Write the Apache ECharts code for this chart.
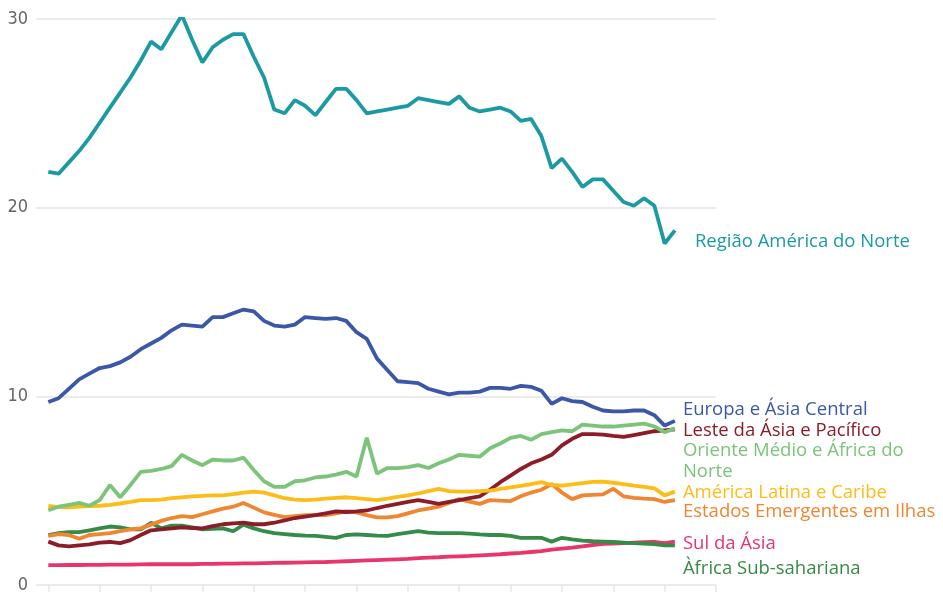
<!DOCTYPE html>
<html>
<head>
<meta charset="utf-8">
<script src="https://cdn.jsdelivr.net/npm/echarts@6/dist/echarts.min.js"></script>
<style>
  html, body { margin: 0; padding: 0; background: #fff; }
  #main { width: 943px; height: 594px; }
</style>
</head>
<body>
<div id="main"></div>
<script>
// anos 1960-2021
const years = [];
for (let y = 1960; y <= 2021; y++) years.push(y);

const tickYears = [1960, 1965, 1970, 1975, 1980, 1985, 1990, 1995, 2000, 2005, 2010, 2015, 2020, 2025];
const yTicks = [0, 10, 20, 30];

const americaNorte = [
  21.9, 21.8, 22.4, 23.0, 23.7, 24.5, 25.3, 26.1, 26.9, 27.8,
  28.8, 28.4, 29.3, 30.2, 28.9, 27.7, 28.5, 28.9, 29.2, 29.2,
  28.0, 26.9, 25.2, 25.0, 25.7, 25.4, 24.9, 25.6, 26.3, 26.3,
  25.7, 25.0, 25.1, 25.2, 25.3, 25.4, 25.8, 25.7, 25.6, 25.5,
  25.9, 25.3, 25.1, 25.2, 25.3, 25.1, 24.6, 24.7, 23.8, 22.1,
  22.6, 21.9, 21.1, 21.5, 21.5, 20.9, 20.3, 20.1, 20.5, 20.1,
  18.1, 18.8
];
const europaAsiaCentral = [
  9.7, 9.9, 10.4, 10.9, 11.2, 11.5, 11.6, 11.8, 12.1, 12.5,
  12.8, 13.1, 13.5, 13.8, 13.75, 13.7, 14.2, 14.2, 14.4, 14.6,
  14.5, 14.0, 13.75, 13.7, 13.8, 14.2, 14.15, 14.1, 14.15, 14.0,
  13.4, 13.05, 12.0, 11.4, 10.8, 10.75, 10.7, 10.4, 10.25, 10.1,
  10.2, 10.2, 10.25, 10.45, 10.45, 10.4, 10.55, 10.5, 10.3, 9.6,
  9.9, 9.75, 9.7, 9.45, 9.25, 9.2, 9.2, 9.25, 9.25, 9.0,
  8.45, 8.7
];
const lesteAsia = [
  2.3, 2.1, 2.05, 2.1, 2.15, 2.25, 2.28, 2.22, 2.38, 2.65,
  2.9, 2.95, 3.0, 3.05, 3.02, 3.0, 3.12, 3.22, 3.27, 3.3,
  3.22, 3.22, 3.3, 3.42, 3.55, 3.62, 3.7, 3.8, 3.9, 3.87,
  3.9, 3.95, 4.08, 4.2, 4.3, 4.4, 4.5, 4.4, 4.3, 4.4,
  4.5, 4.6, 4.7, 5.05, 5.45, 5.8, 6.15, 6.45, 6.65, 6.9,
  7.4, 7.75, 8.0, 8.0, 7.97, 7.9, 7.85, 7.95, 8.05, 8.15,
  8.2, 8.25
];
const orienteMedio = [
  3.96, 4.15, 4.25, 4.35, 4.2, 4.5, 5.3, 4.65, 5.3, 6.0,
  6.05, 6.15, 6.3, 6.9, 6.6, 6.35, 6.65, 6.6, 6.6, 6.75,
  6.1, 5.5, 5.2, 5.2, 5.5, 5.55, 5.7, 5.75, 5.85, 6.0,
  5.75, 7.8, 5.9, 6.2, 6.2, 6.25, 6.35, 6.2, 6.45, 6.65,
  6.9, 6.85, 6.8, 7.25, 7.5, 7.8, 7.9, 7.7, 8.0, 8.1,
  8.2, 8.15, 8.5, 8.45, 8.4, 8.4, 8.45, 8.5, 8.55, 8.4,
  8.1, 8.3
];
const americaLatina = [
  4.2, 4.13, 4.12, 4.15, 4.18, 4.2, 4.25, 4.32, 4.4, 4.5,
  4.5, 4.52, 4.6, 4.65, 4.7, 4.72, 4.75, 4.75, 4.82, 4.9,
  4.95, 4.9, 4.75, 4.6, 4.53, 4.5, 4.53, 4.58, 4.62, 4.65,
  4.6, 4.55, 4.5, 4.58, 4.67, 4.75, 4.85, 4.98, 5.1, 4.98,
  4.95, 4.95, 4.98, 5.0, 5.1, 5.18, 5.25, 5.35, 5.45, 5.3,
  5.27, 5.33, 5.4, 5.47, 5.48, 5.42, 5.35, 5.27, 5.2, 5.12,
  4.75, 4.95
];
const estadosIlhas = [
  2.6, 2.7, 2.65, 2.45, 2.65, 2.7, 2.75, 2.85, 2.95, 3.0,
  3.2, 3.4, 3.55, 3.65, 3.6, 3.75, 3.9, 4.05, 4.15, 4.35,
  4.1, 3.85, 3.72, 3.6, 3.65, 3.7, 3.7, 3.7, 3.8, 3.9,
  3.85, 3.7, 3.58, 3.58, 3.65, 3.8, 3.95, 4.05, 4.15, 4.35,
  4.55, 4.42, 4.3, 4.5, 4.47, 4.45, 4.7, 4.9, 5.05, 5.35,
  4.9, 4.55, 4.75, 4.78, 4.8, 5.1, 4.7, 4.62, 4.58, 4.55,
  4.4, 4.5
];
const sulAsia = [
  1.05, 1.05, 1.06, 1.06, 1.07, 1.07, 1.08, 1.08, 1.08, 1.09,
  1.1, 1.1, 1.1, 1.1, 1.1, 1.12, 1.12, 1.13, 1.13, 1.15,
  1.15, 1.16, 1.17, 1.18, 1.19, 1.2, 1.21, 1.22, 1.24, 1.26,
  1.28, 1.3, 1.32, 1.34, 1.36, 1.38, 1.42, 1.45, 1.47, 1.5,
  1.52, 1.54, 1.57, 1.6, 1.63, 1.67, 1.7, 1.75, 1.8, 1.87,
  1.93, 1.98, 2.05, 2.12, 2.18, 2.2, 2.22, 2.25, 2.27, 2.28,
  2.22, 2.3
];
const africaSub = [
  2.65, 2.75, 2.8, 2.8, 2.9, 3.0, 3.1, 3.05, 2.95, 2.95,
  3.3, 3.0, 3.15, 3.15, 3.05, 2.95, 2.97, 3.0, 2.85, 3.2,
  3.0, 2.85, 2.75, 2.7, 2.65, 2.62, 2.6, 2.55, 2.5, 2.65,
  2.68, 2.65, 2.62, 2.6, 2.7, 2.78, 2.85, 2.78, 2.75, 2.75,
  2.75, 2.72, 2.68, 2.65, 2.65, 2.6, 2.5, 2.5, 2.5, 2.3,
  2.5, 2.42, 2.35, 2.32, 2.3, 2.28, 2.25, 2.22, 2.2, 2.17,
  2.1, 2.1
];

const regions = [
  { name: 'Sul da Ásia', data: sulAsia, color: '#e8356b', offset: [0, 2] },
  { name: 'Àfrica Sub-sahariana', data: africaSub, color: '#358b47', offset: [0, 23] },
  { name: 'Estados Emergentes em Ilhas', data: estadosIlhas, color: '#ef8632', offset: [0, 12] },
  { name: 'Leste da Ásia e Pacífico', data: lesteAsia, color: '#8c1c28', offset: [0, 1] },
  { name: 'América Latina e Caribe', data: americaLatina, color: '#fdbd18', offset: [0, 1] },
  { name: 'Oriente Médio e África do\nNorte', data: orienteMedio, color: '#7cc47a', offset: [0, 33] },
  { name: 'Europa e Ásia Central', data: europaAsiaCentral, color: '#3c57a7', offset: [0, -11] },
  { name: 'Região América do Norte', data: americaNorte, color: '#1c9aa3', offset: [12, 11] }
];

const myChart = echarts.init(document.getElementById('main'));

const option = {
  animation: false,
  backgroundColor: '#fff',
  grid: { left: 36, right: 227, top: 19, bottom: 7, containLabel: false },
  xAxis: {
    type: 'value',
    min: 1958.8,
    max: 2025,
    axisLine: { show: false },
    axisTick: {
      show: true,
      length: 7,
      customValues: tickYears,
      lineStyle: { color: '#e6e6e6', width: 1.5 }
    },
    axisLabel: { show: false },
    splitLine: { show: false }
  },
  yAxis: {
    type: 'value',
    min: 0,
    max: 30,
    interval: 10,
    axisLine: { show: false },
    axisTick: { show: false },
    axisLabel: {
      margin: 8,
      color: '#666',
      fontSize: 18,
      fontFamily: 'DejaVu Sans Condensed',
      customValues: yTicks
    },
    splitLine: { lineStyle: { color: '#ebebeb', width: 2 } }
  },
  series: regions.map(r => ({
    name: r.name,
    type: 'line',
    data: years.map((y, i) => [y, r.data[i]]),
    showSymbol: false,
    symbol: 'none',
    lineStyle: { color: r.color, width: 3.8 },
    itemStyle: { color: r.color },
    endLabel: {
      show: true,
      formatter: r.name,
      color: r.color,
      fontSize: 18.5,
      fontFamily: 'Open Sans',
      lineHeight: 20.5,
      distance: 8,
      offset: r.offset,
      align: 'left'
    }
  }))
};

myChart.setOption(option);
window.onresize = myChart.resize;
</script>
</body>
</html>
